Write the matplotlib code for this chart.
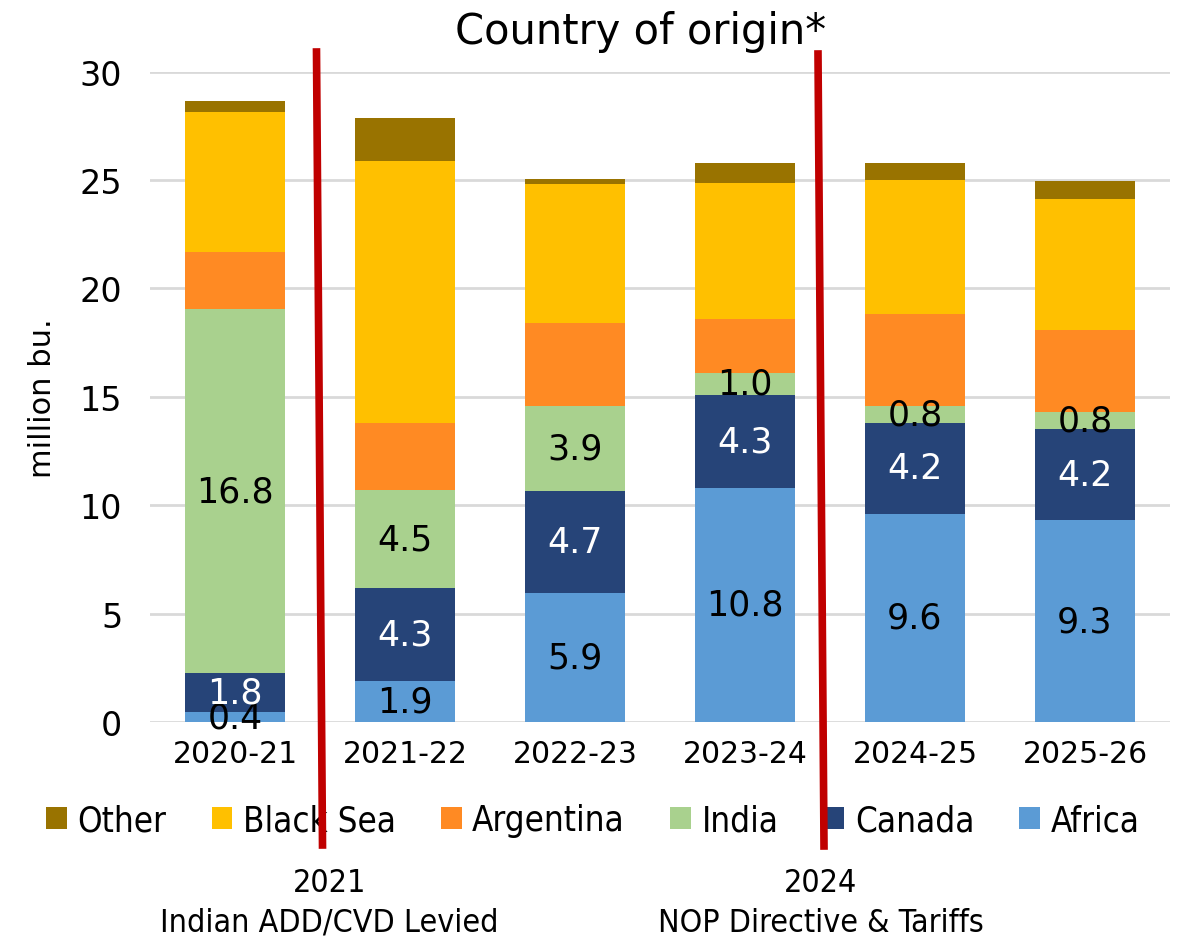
import matplotlib
matplotlib.use("Agg")
import matplotlib.pyplot as plt
from matplotlib.lines import Line2D
from matplotlib.patches import Patch
import numpy as np

categories = ["2020-21", "2021-22", "2022-23", "2023-24", "2024-25", "2025-26"]
africa = [0.44, 1.9, 5.94, 10.8, 9.6, 9.3]
canada = [1.8, 4.27, 4.72, 4.3, 4.2, 4.2]
india = [16.8, 4.52, 3.94, 1.0, 0.8, 0.8]
argentina = [2.65, 3.12, 3.79, 2.5, 4.2, 3.8]
black_sea = [6.45, 12.05, 6.43, 6.25, 6.2, 6.05]
other = [0.52, 2.0, 0.23, 0.95, 0.8, 0.8]

series = [
    ("Africa", africa, "#5B9BD5", "black"),
    ("Canada", canada, "#264478", "white"),
    ("India", india, "#A9D18E", "black"),
    ("Argentina", argentina, "#FF8A23", None),
    ("Black Sea", black_sea, "#FFC000", None),
    ("Other", other, "#997300", None),
]

fig = plt.figure(figsize=(11.86, 9.45), dpi=100)
ax = fig.add_axes([0.1265, 0.235, 0.86, 0.688])

x = np.arange(len(categories))
bottom = np.zeros(len(categories))
handles = {}
for name, vals, color, lblcolor in series:
    vals = np.array(vals)
    ax.bar(x, vals, width=0.59, bottom=bottom, color=color, zorder=3, linewidth=0)
    handles[name] = Patch(facecolor=color, label=name)
    if lblcolor is not None:
        for xi, b, v in zip(x, bottom, vals):
            ax.text(xi, b + v / 2, f"{v:.1f}", ha="center", va="center",
                    fontsize=25, color=lblcolor, zorder=5)
    bottom = bottom + vals

ax.set_xlim(-0.5, len(categories) - 0.5)
ax.set_ylim(0, 30)
ax.set_yticks([0, 5, 10, 15, 20, 25, 30])
ax.set_xticks(x)
ax.set_xticklabels(categories)
ax.tick_params(axis="x", length=0, labelsize=21.5, pad=12)
ax.tick_params(axis="y", length=0, labelsize=24, pad=20)
ax.yaxis.grid(True, color="#D9D9D9", linewidth=2, zorder=0)
for s in ax.spines.values():
    s.set_visible(False)
ax.set_ylabel("million bu.", fontsize=22, labelpad=16)
fig.text(0.54, 0.966, "Country of origin*", ha="center", va="center", fontsize=30)

order = ["Other", "Black Sea", "Argentina", "India", "Canada", "Africa"]
fig.legend(handles=[handles[n] for n in order], loc="center", bbox_to_anchor=(0.50, 0.131),
           ncol=6, frameon=False, handlelength=0.6, handleheight=0.6, handletextpad=0.3,
           columnspacing=1.3, prop={"family": "DejaVu Sans", "stretch": "condensed", "size": 25})

fig.text(0.278, 0.044, "2021\nIndian ADD/CVD Levied", ha="center", va="center",
         fontsize=23, stretch="condensed", linespacing=1.35)
fig.text(0.692, 0.044, "2024\nNOP Directive & Tariffs", ha="center", va="center",
         fontsize=23, stretch="condensed", linespacing=1.35)

H = 945.0
W = 1186.0
for (x0, y0, x1, y1) in [(316.5, 53, 322.5, 846), (818, 55, 824, 847)]:
    fig.add_artist(Line2D([x0 / W, x1 / W], [1 - y0 / H, 1 - y1 / H], transform=fig.transFigure,
                          color="#C00000", linewidth=5.5, zorder=10))

fig.savefig("out.png", dpi=100)
